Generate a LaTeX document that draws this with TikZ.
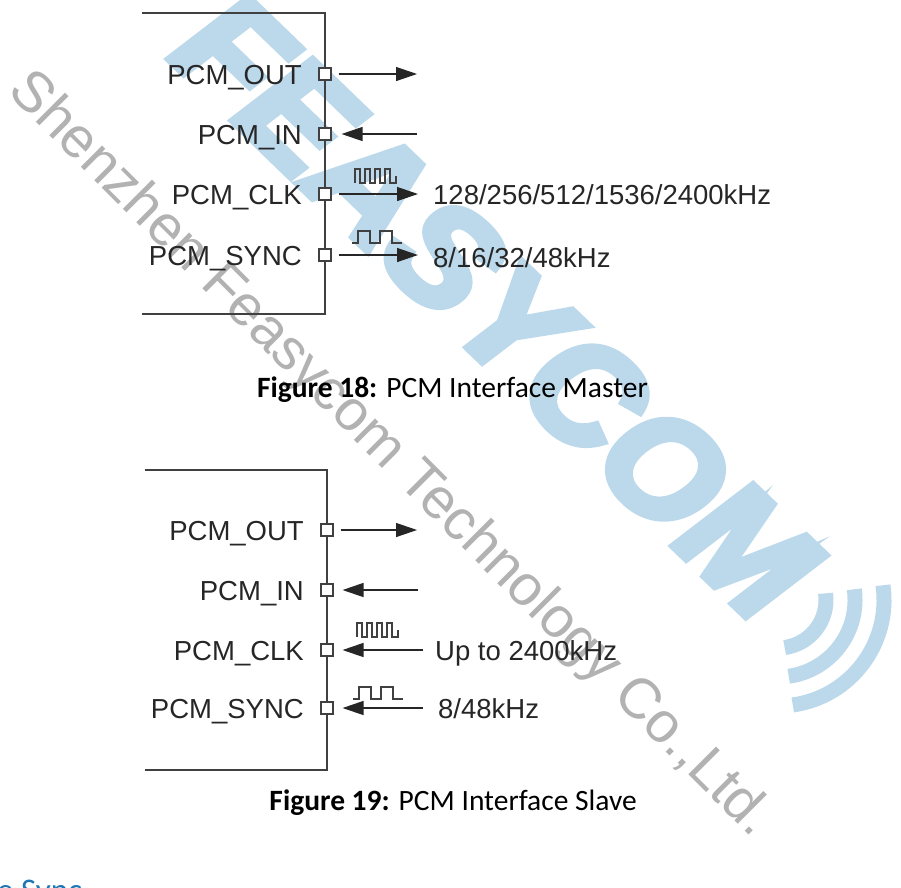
\documentclass[tikz,border=0pt]{standalone}
\usepackage{fontspec}
\setmainfont{Liberation Sans}
\newfontfamily\capfont{Carlito}
\newfontfamily\markfont[FakeBold=5,FakeSlant=0.15]{Liberation Sans Bold}
\usetikzlibrary{arrows.meta,positioning}
\definecolor{wmblue}{RGB}{188,217,236}
\definecolor{wmgray}{RGB}{178,178,178}
\definecolor{headblue}{RGB}{31,118,178}
\definecolor{linegray}{RGB}{64,64,64}
\begin{document}
\begin{tikzpicture}[x=1pt,y=-1pt,
  pin/.style={draw=linegray,fill=white,line width=1.1pt,minimum size=12pt,inner sep=0pt},
  pinlabel/.style={anchor=base east,inner sep=0pt,font=\fontsize{27.5}{30}\selectfont,text=black!85},
  rate/.style={anchor=base west,inner sep=0pt,font=\fontsize{27.5}{30}\selectfont,text=black!85},
  sig/.style={line width=1.3pt,draw=black!85,-{Triangle[length=21pt,width=14pt]}},
  chip/.style={line width=1.4pt,draw=linegray},
  wave/.style={line width=1.1pt,draw=linegray},
  caption/.style={anchor=east,inner sep=0pt,font=\capfont\fontsize{29.5}{31}\selectfont},
  wmwave/.style={line width=15pt,draw=wmblue},
  clkwave/.pic={\draw[wave] (0,0) -- (0,-14) -- (5,-14) -- (5,0) -- (10,0) -- (10,-14) -- (15,-14) -- (15,0)
    -- (20,0) -- (20,-14) -- (25,-14) -- (25,0) -- (30,0) -- (30,-14) -- (35,-14) -- (35,0) -- (41,0) -- (41,-7);},
  syncwave/.pic={\draw[wave] (0,0) -- (6,0) -- (6,-12) -- (18,-12) -- (18,0) -- (28,0) -- (28,-12)
    -- (40,-12) -- (40,0) -- (50,0);}]
\useasboundingbox[fill=white] (0,0) rectangle (901,887);

\node[rotate=-44,text=wmblue,font=\markfont\fontsize{145}{148}\selectfont] (brand) at (492,302) {FEASYCOM};
\coordinate (wv) at (778,600);
\draw[wmwave] ([shift={(-8:48)}]wv) arc[start angle=-8,end angle=82,radius=48];
\draw[wmwave] ([shift={(-8:77)}]wv) arc[start angle=-8,end angle=82,radius=77];
\draw[wmwave] ([shift={(-8:106)}]wv) arc[start angle=-8,end angle=82,radius=106];
\node[rotate=-45,text=wmgray,font=\fontsize{57}{60}\selectfont] (firm) at (390,455) {Shenzhen Feasycom Technology Co.,Ltd.};

\draw[chip] (142,13) -- (325,13) -- (325,314) -- (142,314);
\node[pin] (mo) at (325,74) {};
\node[pin] (mi) at (325,134) {};
\node[pin] (mc) at (325,194) {};
\node[pin] (ms) at (325,255) {};
\node[pinlabel] (mol) at (302,84) {PCM\_OUT};
\node[pinlabel] (mil) at (302,144) {PCM\_IN};
\node[pinlabel] (mcl) at (302,204) {PCM\_CLK};
\node[pinlabel] (msl) at (302,265) {PCM\_SYNC};
\coordinate (mo-end) at (417,74);
\coordinate (mi-end) at (417,134);
\coordinate (mc-end) at (418,194);
\coordinate (ms-end) at (418,255);
\draw[sig,shorten <=7pt] (mo) -- (mo-end);
\draw[sig,shorten >=10pt] (mi-end) -- (mi);
\draw[sig,shorten <=7pt] (mc) -- (mc-end);
\draw[sig,shorten <=7pt] (ms) -- (ms-end);
\pic at (355,183) {clkwave};
\pic at (352,243) {syncwave};
\node[rate] (mcr) at (433,204) {128/256/512/1536/2400kHz};
\node[rate] (msr) at (433,267) {8/16/32/48kHz};
\node[caption] (cap18) at (648,390) {\textbf{Figure 18:} PCM Interface Master};

\draw[chip] (145,470) -- (327,470) -- (327,770) -- (145,770);
\node[pin] (so) at (327,530) {};
\node[pin] (si) at (327,590) {};
\node[pin] (sc) at (327,650) {};
\node[pin] (ss) at (327,708) {};
\node[pinlabel] (sol) at (304,540) {PCM\_OUT};
\node[pinlabel] (sil) at (304,600) {PCM\_IN};
\node[pinlabel] (scl) at (304,660) {PCM\_CLK};
\node[pinlabel] (ssl) at (304,718) {PCM\_SYNC};
\coordinate (so-end) at (417,530);
\coordinate (si-end) at (418,590);
\coordinate (sc-end) at (423,650);
\coordinate (ss-end) at (423,708);
\draw[sig,shorten <=7pt] (so) -- (so-end);
\draw[sig,shorten >=9pt] (si-end) -- (si);
\draw[sig,shorten >=9pt] (sc-end) -- (sc);
\draw[sig,shorten >=9pt] (ss-end) -- (ss);
\pic at (357,637) {clkwave};
\pic at (353,699) {syncwave};
\node[rate] (scr) at (435,660) {Up to 2400kHz};
\node[rate] (ssr) at (438,718) {8/48kHz};
\node[caption] (cap19) at (637,803) {\textbf{Figure 19:} PCM Interface Slave};

\node[anchor=base west,inner sep=0pt,text=headblue,font=\capfont\fontsize{33}{36}\selectfont] (head) at (-3,901) {e Sync};
\end{tikzpicture}
\end{document}
